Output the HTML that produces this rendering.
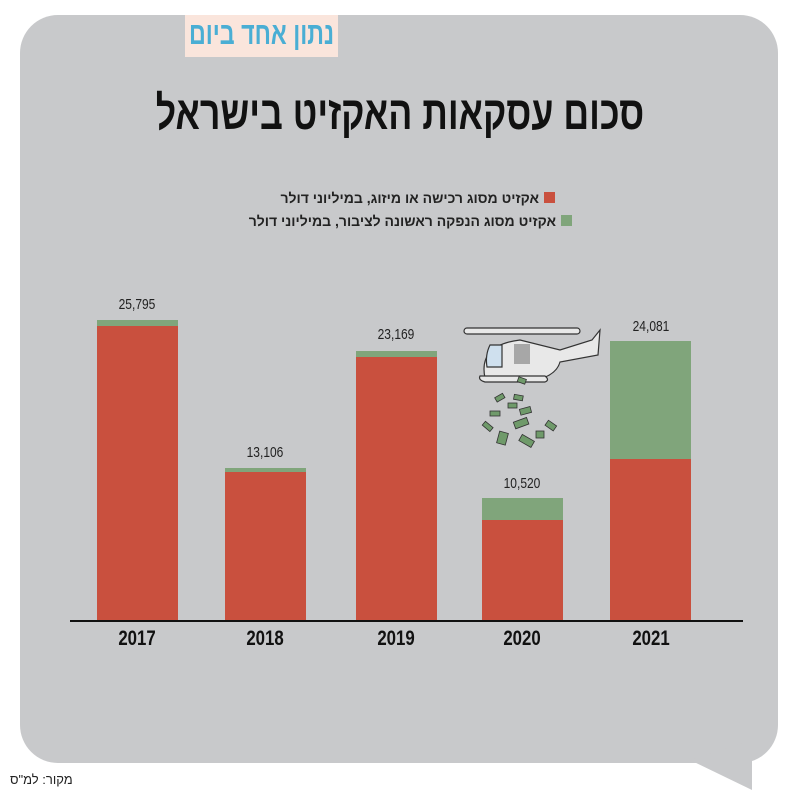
<!DOCTYPE html>
<html><head><meta charset="utf-8"><style>
body{margin:0;width:800px;height:800px;background:#fff;overflow:hidden;position:relative;font-family:"Liberation Sans","Noto Sans CJK JP",sans-serif}
.a{position:absolute;white-space:nowrap}
.bar{position:absolute;width:81px}
.r{background:#c9503e}.g{background:#80a57b}
.v{position:absolute;width:120px;text-align:center;font-size:15px;color:#222;transform:scaleX(.8)}
.y{position:absolute;width:120px;text-align:center;font-size:21px;font-weight:bold;color:#111;top:627px;transform:scaleX(.8)}
</style></head><body>
<div class="a" style="left:20px;top:15px;width:758px;height:748px;background:#c8c9cb;border-radius:38px"></div>
<svg class="a" style="left:0;top:0" width="800" height="800"><polygon points="690,760 752,790 752,740" fill="#c8c9cb"/></svg>
<div class="a" style="left:185px;top:15px;width:153px;height:42px;background:#fae5dc"></div>
<div class="a" style="left:160px;top:16px;width:203px;text-align:center;font-size:31px;font-weight:bold;color:#4aaed4;transform:scaleX(.75)" dir="rtl">נתון אחד ביום</div>
<div class="a" style="left:0;top:85px;width:800px;text-align:center;font-size:47px;font-weight:bold;color:#111;transform:scaleX(.76)" dir="rtl">סכום עסקאות האקזיט בישראל</div>
<div class="a" style="left:200px;top:190px;width:355px;text-align:right;font-size:14px;font-weight:bold;color:#222" dir="rtl"><span style="display:inline-block;width:11px;height:11px;background:#c9503e;margin-left:5px"></span>אקזיט מסוג רכישה או מיזוג, במיליוני דולר</div>
<div class="a" style="left:200px;top:213px;width:372px;text-align:right;font-size:14px;font-weight:bold;color:#222" dir="rtl"><span style="display:inline-block;width:11px;height:11px;background:#80a57b;margin-left:5px"></span>אקזיט מסוג הנפקה ראשונה לציבור, במיליוני דולר</div>

<div class="bar g" style="left:97px;top:320px;height:6px"></div><div class="bar r" style="left:97px;top:326px;height:295px"></div>
<div class="bar g" style="left:225px;top:468px;height:4px"></div><div class="bar r" style="left:225px;top:472px;height:149px"></div>
<div class="bar g" style="left:356px;top:351px;height:6px"></div><div class="bar r" style="left:356px;top:357px;height:264px"></div>
<div class="bar g" style="left:482px;top:498px;height:22px"></div><div class="bar r" style="left:482px;top:520px;height:101px"></div>
<div class="bar g" style="left:610px;top:341px;height:118px"></div><div class="bar r" style="left:610px;top:459px;height:162px"></div>
<div class="a" style="left:70px;top:620px;width:673px;height:2px;background:#111"></div>

<div class="v" style="left:77px;top:296px">25,795</div>
<div class="v" style="left:205px;top:444px">13,106</div>
<div class="v" style="left:336px;top:326px">23,169</div>
<div class="v" style="left:462px;top:475px">10,520</div>
<div class="v" style="left:591px;top:318px">24,081</div>

<div class="y" style="left:77px">2017</div>
<div class="y" style="left:205px">2018</div>
<div class="y" style="left:336px">2019</div>
<div class="y" style="left:462px">2020</div>
<div class="y" style="left:591px">2021</div>

<svg class="a" style="left:0;top:0" width="800" height="800">
<g stroke="#333" stroke-width="1.2" fill="#e8e8e8">
<rect x="464" y="328" width="116" height="6" rx="3"/>
<path d="M485,378 Q478,345 520,340 L560,350 L592,340 L600,330 L598,355 L560,362 Q555,380 520,382 Z"/>
<path d="M480,376 L545,376 Q550,380 545,382 L485,382 Q478,380 480,376Z"/>
<path d="M490,345 Q485,355 487,367 L502,367 L502,345 Z" fill="#cfe0ee"/>
</g>
<rect x="514" y="344" width="16" height="20" fill="#a7a7a7"/>
<g fill="#6f9a6a" stroke="#333" stroke-width=".8">
<rect x="518" y="378" width="8" height="5" transform="rotate(20 522 380)"/>
<rect x="495" y="395" width="9" height="5" transform="rotate(-30 500 397)"/>
<rect x="514" y="395" width="9" height="5" transform="rotate(10 518 397)"/>
<rect x="508" y="403" width="9" height="5"/>
<rect x="520" y="408" width="11" height="6" transform="rotate(-15 525 411)"/>
<rect x="490" y="411" width="10" height="5"/>
<rect x="483" y="424" width="10" height="5" transform="rotate(40 488 426)"/>
<rect x="514" y="420" width="14" height="7" transform="rotate(-20 520 423)"/>
<rect x="546" y="422" width="10" height="6" transform="rotate(35 550 425)"/>
<rect x="498" y="432" width="9" height="12" transform="rotate(15 502 438)"/>
<rect x="520" y="437" width="14" height="7" transform="rotate(30 526 440)"/>
<rect x="536" y="431" width="8" height="7"/>
</g>
</svg>
<div class="a" style="left:10px;top:772px;font-size:13px;color:#222" dir="rtl">מקור: למ"ס</div>
</body></html>
